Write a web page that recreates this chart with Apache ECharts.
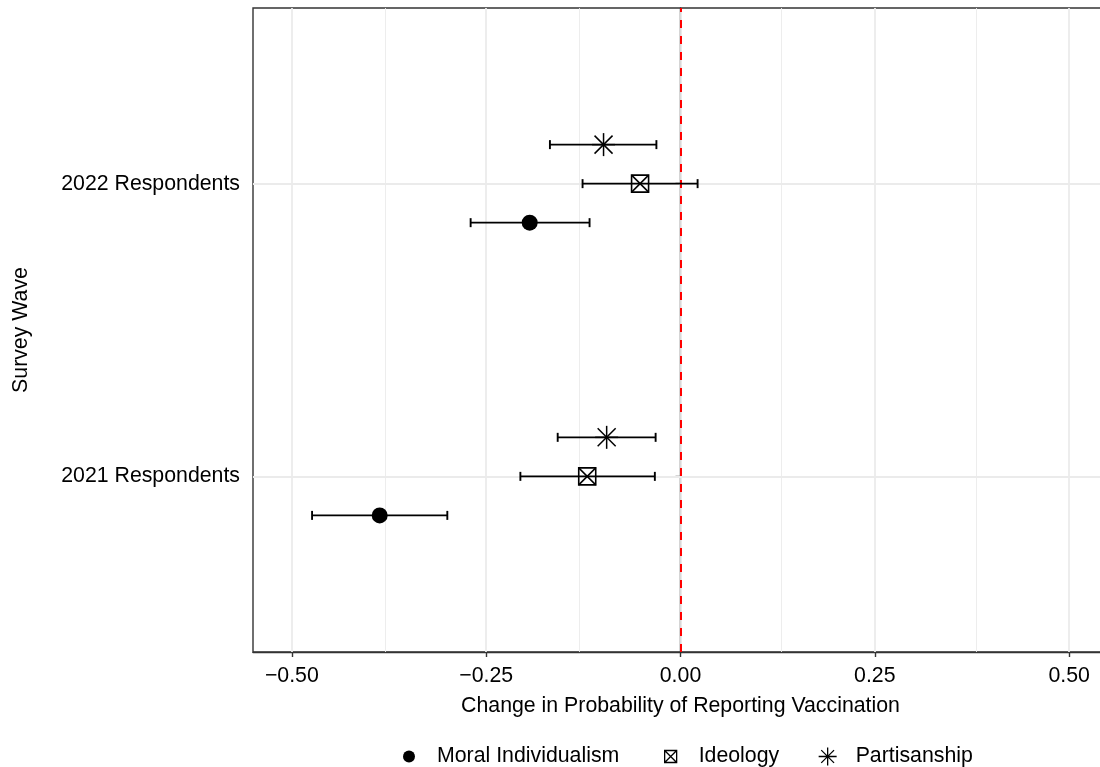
<!DOCTYPE html>
<html>
<head>
<meta charset="utf-8">
<script src="https://cdn.jsdelivr.net/npm/echarts@6/dist/echarts.min.js"></script>
<style>
  html, body { margin: 0; padding: 0; background: #fff; }
  #chart { width: 1100px; height: 767px; }
</style>
</head>
<body>
<div id="chart"></div>
<script>
// ---- data ----
const categories = ['2021 Respondents', '2022 Respondents'];
const categoryPos = [1, 2];
const xTicks = [-0.5, -0.25, 0, 0.25, 0.5];
const xMinorTicks = [-0.375, -0.125, 0.125, 0.375];
const groups = ['Moral Individualism', 'Ideology', 'Partisanship'];
const dodgeOffsets = [-0.1333, 0, 0.1333];

const moralEst = [-0.387, -0.194];
const moralLow = [-0.474, -0.270];
const moralHigh = [-0.300, -0.117];

const ideologyEst = [-0.120, -0.052];
const ideologyLow = [-0.206, -0.126];
const ideologyHigh = [-0.033, 0.022];

const partisanEst = [-0.095, -0.099];
const partisanLow = [-0.158, -0.168];
const partisanHigh = [-0.032, -0.031];

const FONT = 'Liberation Sans, Arial, Helvetica, sans-serif';
const FS = 21.3;
const estimates = [moralEst, ideologyEst, partisanEst];
const lows = [moralLow, ideologyLow, partisanLow];
const highs = [moralHigh, ideologyHigh, partisanHigh];

function fmt(v) {
  const s = Math.abs(v).toFixed(2);
  return (v < -1e-9 ? '\u2212' : '') + s;
}

function drawSymbol(kind, cx, cy) {
  const st = { stroke: '#000', lineWidth: 1.5, fill: null };
  if (kind === 0) {
    return { type: 'circle', shape: { cx: cx, cy: cy, r: 8 }, style: { fill: '#000' }, z2: 10 };
  }
  if (kind === 1) {
    const h = 8.5;
    return { type: 'group', z2: 10, children: [
      { type: 'rect', shape: { x: cx - h, y: cy - h, width: 2 * h, height: 2 * h }, style: { stroke: '#000', lineWidth: 1.6, fill: 'rgba(0,0,0,0)' } },
      { type: 'line', shape: { x1: cx - h, y1: cy - h, x2: cx + h, y2: cy + h }, style: st },
      { type: 'line', shape: { x1: cx + h, y1: cy - h, x2: cx - h, y2: cy + h }, style: st }
    ]};
  }
  const p = 11.5, d = 9;
  return { type: 'group', z2: 10, children: [
    { type: 'line', shape: { x1: cx, y1: cy - p, x2: cx, y2: cy + p }, style: st },
    { type: 'line', shape: { x1: cx - p, y1: cy, x2: cx + p, y2: cy }, style: st },
    { type: 'line', shape: { x1: cx - d, y1: cy - d, x2: cx + d, y2: cy + d }, style: st },
    { type: 'line', shape: { x1: cx + d, y1: cy - d, x2: cx - d, y2: cy + d }, style: st }
  ]};
}

function makeSeries(gi) {
  const data = categoryPos.map((pos, i) => [estimates[gi][i], pos + dodgeOffsets[gi], lows[gi][i], highs[gi][i]]);
  return {
    type: 'custom',
    name: groups[gi],
    data: data,
    encode: { x: [0, 2, 3], y: 1 },
    z: 5,
    renderItem: function (params, api) {
      const y = api.value(1);
      const c = api.coord([api.value(0), y]);
      const lo = api.coord([api.value(2), y]);
      const hi = api.coord([api.value(3), y]);
      const cap = 4.5;
      const ls = { stroke: '#000', lineWidth: 1.9 };
      return { type: 'group', children: [
        { type: 'line', shape: { x1: lo[0], y1: lo[1], x2: hi[0], y2: hi[1] }, style: ls },
        { type: 'line', shape: { x1: lo[0], y1: lo[1] - cap, x2: lo[0], y2: lo[1] + cap }, style: ls },
        { type: 'line', shape: { x1: hi[0], y1: hi[1] - cap, x2: hi[0], y2: hi[1] + cap }, style: ls },
        drawSymbol(gi, c[0], c[1])
      ]};
    }
  };
}

const gridSeries = {
  type: 'line',
  name: '_grid',
  data: [],
  silent: true,
  z: 1,
  markLine: {
    silent: true,
    symbol: 'none',
    label: { show: false },
    animation: false,
    data: [].concat(
      xMinorTicks.map(v => ({ xAxis: v, lineStyle: { color: '#EBEBEB', width: 0.9, type: 'solid' } })),
      xTicks.map(v => ({ xAxis: v, lineStyle: { color: '#EBEBEB', width: 1.8, type: 'solid' } })),
      categoryPos.map(v => ({ yAxis: v, lineStyle: { color: '#EBEBEB', width: 1.8, type: 'solid' } }))
    )
  }
};

const zeroLine = {
  type: 'line',
  name: '_zero',
  data: [],
  silent: true,
  z: 8,
  markLine: {
    silent: true,
    symbol: 'none',
    label: { show: false },
    animation: false,
    data: [{ xAxis: 0 }],
    lineStyle: { color: '#FF0000', width: 2, type: [8, 8] }
  }
};

const legendBase = {
  orient: 'horizontal',
  padding: 0,
  itemWidth: 46,
  top: 746,
  selectedMode: false,
  textStyle: { fontSize: FS, color: '#000', fontFamily: FONT }
};

const option = {
  animation: false,
  backgroundColor: '#fff',
  textStyle: { fontFamily: FONT },
  grid: {
    left: 253, width: 855, top: 8, height: 644,
    outerBoundsMode: 'none',
    containLabel: false,
    show: true, borderColor: '#333', borderWidth: 1.4, backgroundColor: 'rgba(0,0,0,0)'
  },
  xAxis: {
    type: 'value',
    min: -0.55, max: 0.55,
    name: 'Change in Probability of Reporting Vaccination',
    nameLocation: 'middle',
    nameGap: 44,
    nameTextStyle: { fontSize: FS, color: '#000', fontFamily: FONT },
    axisLine: { show: true, lineStyle: { color: '#333', width: 1.4 } },
    axisTick: { show: true, customValues: xTicks, length: 5, lineStyle: { color: '#333', width: 1.4 } },
    axisLabel: { customValues: xTicks, formatter: fmt, fontSize: FS, color: '#000', margin: 14, fontFamily: FONT },
    splitLine: { show: false }
  },
  yAxis: {
    type: 'value',
    min: 0.4, max: 2.6,
    name: 'Survey Wave',
    nameLocation: 'middle',
    nameRotate: 90,
    nameGap: 221,
    nameTextStyle: { fontSize: FS, color: '#000', fontFamily: FONT },
    axisLine: { show: true, lineStyle: { color: '#333', width: 1.4 } },
    axisTick: { show: true, customValues: categoryPos, length: 5, lineStyle: { color: '#333', width: 1.4 } },
    axisLabel: {
      customValues: categoryPos,
      formatter: function (v) { const i = categoryPos.findIndex(p => Math.abs(p - v) < 1e-6); return i >= 0 ? categories[i] : ''; },
      fontSize: FS, color: '#000', margin: 13, fontFamily: FONT
    },
    splitLine: { show: false }
  },
  legend: [
    Object.assign({}, legendBase, { left: 403, itemHeight: 12, data: [{ name: groups[0], icon: 'circle', itemStyle: { color: '#000' } }] }),
    Object.assign({}, legendBase, { left: 664, itemHeight: 12, data: [{ name: groups[1], icon: 'path://M0,0H10V10H0Z M0,0L10,10 M10,0L0,10', itemStyle: { color: 'rgba(0,0,0,0)', borderColor: '#000', borderWidth: 1.3 } }] }),
    Object.assign({}, legendBase, { left: 818, itemHeight: 18, data: [{ name: groups[2], icon: 'path://M9,0V18 M0,9H18 M2.6,2.6L15.4,15.4 M15.4,2.6L2.6,15.4', itemStyle: { color: 'rgba(0,0,0,0)', borderColor: '#000', borderWidth: 1.3 } }] })
  ],
  series: [gridSeries, makeSeries(0), makeSeries(1), makeSeries(2), zeroLine]
};

const chart = echarts.init(document.getElementById('chart'), null, { renderer: 'canvas' });
chart.setOption(option);
</script>
</body>
</html>
